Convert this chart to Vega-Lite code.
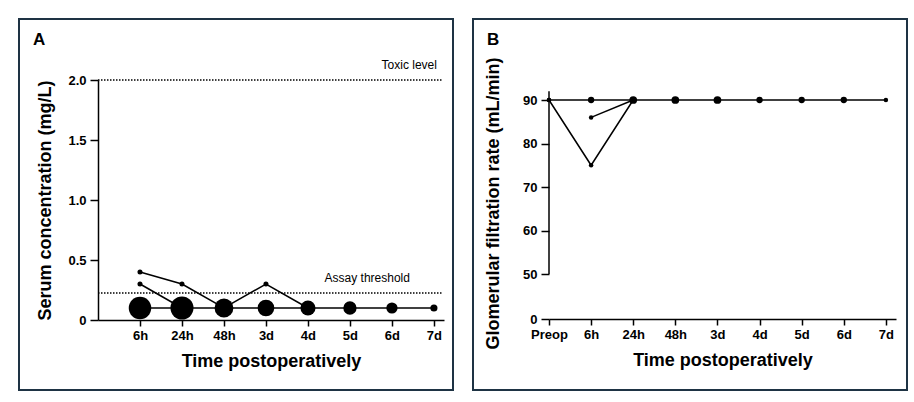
{
  "$schema": "https://vega.github.io/schema/vega-lite/v6.json",
  "padding": {"left": 18, "top": 18, "right": 0, "bottom": 0},
  "background": "white",
  "spacing": 18,
  "datasets": {
    "serum": [
      {"time": "6h", "value": 0.1, "series": "below", "n": 20},
      {"time": "24h", "value": 0.1, "series": "below", "n": 21},
      {"time": "48h", "value": 0.1, "series": "below", "n": 14},
      {"time": "3d", "value": 0.1, "series": "below", "n": 11},
      {"time": "4d", "value": 0.1, "series": "below", "n": 9},
      {"time": "5d", "value": 0.1, "series": "below", "n": 7},
      {"time": "6d", "value": 0.1, "series": "below", "n": 5},
      {"time": "7d", "value": 0.1, "series": "below", "n": 2},
      {"time": "6h", "value": 0.4, "series": "p1", "n": 1},
      {"time": "24h", "value": 0.3, "series": "p1", "n": 1},
      {"time": "48h", "value": 0.1, "series": "p1", "n": 1},
      {"time": "3d", "value": 0.3, "series": "p1", "n": 1},
      {"time": "4d", "value": 0.1, "series": "p1", "n": 1},
      {"time": "6h", "value": 0.3, "series": "p2", "n": 1},
      {"time": "24h", "value": 0.1, "series": "p2", "n": 1}
    ],
    "thresholds": [
      {"label": "Toxic level", "value": 2.0},
      {"label": "Assay threshold", "value": 0.225}
    ],
    "gfrAxis": [
      {"time": "Preop", "from": 50, "to": 92}
    ],
    "gfr": [
      {"time": "Preop", "value": 90, "series": "normal", "n": 1},
      {"time": "6h", "value": 90, "series": "normal", "n": 2},
      {"time": "24h", "value": 90, "series": "normal", "n": 3},
      {"time": "48h", "value": 90, "series": "normal", "n": 3},
      {"time": "3d", "value": 90, "series": "normal", "n": 3},
      {"time": "4d", "value": 90, "series": "normal", "n": 2},
      {"time": "5d", "value": 90, "series": "normal", "n": 2},
      {"time": "6d", "value": 90, "series": "normal", "n": 2},
      {"time": "7d", "value": 90, "series": "normal", "n": 1},
      {"time": "Preop", "value": 90, "series": "q1", "n": 1},
      {"time": "6h", "value": 75, "series": "q1", "n": 1},
      {"time": "24h", "value": 90, "series": "q1", "n": 1},
      {"time": "6h", "value": 86, "series": "q2", "n": 1},
      {"time": "24h", "value": 90, "series": "q2", "n": 1}
    ]
  },
  "config": {
    "font": "Liberation Sans",
    "view": {"stroke": "#1e3344", "strokeWidth": 2},
    "axis": {
      "grid": false,
      "domainColor": "#000",
      "domainWidth": 1.5,
      "tickColor": "#000",
      "tickWidth": 1.5,
      "labelColor": "#000",
      "labelFont": "Liberation Sans",
      "labelFontSize": 13,
      "labelFontWeight": "bold",
      "titleFont": "Liberation Sans",
      "titleFontSize": 18,
      "titleFontWeight": "bold",
      "titleColor": "#000"
    },
    "title": {"font": "Liberation Sans", "fontSize": 17, "fontWeight": "bold", "color": "#000"}
  },
  "resolve": {"scale": {"x": "independent", "y": "independent", "size": "independent"}},
  "hconcat": [
    {
      "width": 434,
      "height": 371,
      "title": {"text": "A", "anchor": "start", "frame": "group", "offset": -43, "dx": 14, "baseline": "alphabetic"},
      "data": {"name": "serum"},
      "encoding": {
        "x": {
          "field": "time", "type": "ordinal",
          "scale": {"type": "point", "domain": ["Preop", "6h", "24h", "48h", "3d", "4d", "5d", "6d", "7d"], "range": [79, 425], "padding": 0.12, "align": 0},
          "axis": {"values": ["6h", "24h", "48h", "3d", "4d", "5d", "6d", "7d"], "labelAngle": 0, "tickSize": 6, "labelPadding": 3, "offset": -70, "title": "Time postoperatively", "titlePadding": 10}
        },
        "y": {
          "field": "value", "type": "quantitative",
          "scale": {"domain": [0, 2], "range": [301, 61], "nice": false},
          "axis": {"values": [0, 0.5, 1, 1.5, 2], "labelExpr": "datum.value == 0 ? '0' : format(datum.value, '.1f')", "tickSize": 8, "labelPadding": 4, "offset": -79, "title": "Serum concentration (mg/L)", "titlePadding": 13}
        }
      },
      "layer": [
        {
          "data": {"name": "thresholds"},
          "mark": {"type": "rule", "strokeDash": [1.5, 1.5], "strokeWidth": 1.5, "color": "#000", "x2Offset": 9},
          "encoding": {"x": {"datum": "Preop"}, "x2": {"datum": "7d"}, "y": {"field": "value", "type": "quantitative"}}
        },
        {
          "data": {"name": "thresholds"},
          "transform": [{"filter": "datum.label == 'Toxic level'"}],
          "mark": {"type": "text", "align": "right", "baseline": "alphabetic", "dx": 3, "dy": -11, "fontSize": 12, "color": "#000"},
          "encoding": {"x": {"datum": "7d"}, "y": {"field": "value", "type": "quantitative"}, "text": {"field": "label"}}
        },
        {
          "data": {"name": "thresholds"},
          "transform": [{"filter": "datum.label == 'Assay threshold'"}],
          "mark": {"type": "text", "align": "right", "baseline": "alphabetic", "dx": -24, "dy": -11, "fontSize": 12, "color": "#000"},
          "encoding": {"x": {"datum": "7d"}, "y": {"field": "value", "type": "quantitative"}, "text": {"field": "label"}}
        },
        {
          "mark": {"type": "line", "color": "#000", "strokeWidth": 1.5},
          "encoding": {"detail": {"field": "series"}}
        },
        {
          "mark": {"type": "point", "filled": true, "opacity": 1, "color": "#000", "strokeWidth": 0},
          "encoding": {"size": {"field": "n", "type": "quantitative", "scale": {"domain": [0, 21], "range": [0, 531]}, "legend": null}}
        }
      ]
    },
    {
      "width": 434,
      "height": 371,
      "title": {"text": "B", "anchor": "start", "frame": "group", "offset": -43, "dx": 14, "baseline": "alphabetic"},
      "data": {"name": "gfr"},
      "encoding": {
        "x": {
          "field": "time", "type": "ordinal",
          "scale": {"type": "point", "domain": ["Preop", "6h", "24h", "48h", "3d", "4d", "5d", "6d", "7d"], "range": [76, 423], "padding": 0.12, "align": 0},
          "axis": {"labelAngle": 0, "tickSize": 6, "labelPadding": 3, "offset": -71, "title": "Time postoperatively", "titlePadding": 10}
        },
        "y": {
          "field": "value", "type": "quantitative",
          "scale": {"domain": [0, 50, 90], "range": [300, 255, 81], "nice": false, "zero": false},
          "axis": {"values": [0, 50, 60, 70, 80, 90], "domain": false, "tickSize": 8, "labelPadding": 4, "offset": -76, "title": "Glomerular filtration rate (mL/min)", "titlePadding": 20, "titleY": 184}
        }
      },
      "layer": [
        {
          "data": {"name": "gfrAxis"},
          "mark": {"type": "rule", "strokeWidth": 1.5, "color": "#000"},
          "encoding": {"y": {"field": "from", "type": "quantitative"}, "y2": {"field": "to"}}
        },
        {
          "mark": {"type": "line", "color": "#000", "strokeWidth": 1.5},
          "encoding": {"detail": {"field": "series"}}
        },
        {
          "mark": {"type": "point", "filled": true, "opacity": 1, "color": "#000", "strokeWidth": 0},
          "encoding": {"size": {"field": "n", "type": "quantitative", "scale": {"domain": [0, 3], "range": [0, 60]}, "legend": null}}
        }
      ]
    }
  ]
}
